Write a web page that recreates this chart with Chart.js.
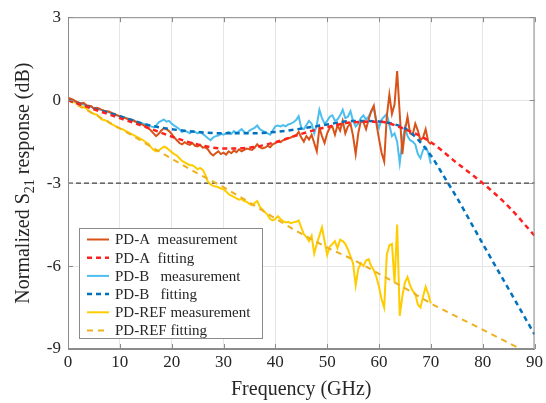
<!DOCTYPE html>
<html><head><meta charset="utf-8">
<script src="https://cdn.jsdelivr.net/npm/chart.js@4.4.0/dist/chart.umd.min.js"></script>
<style>html,body{margin:0;padding:0;background:#fff}</style>
</head><body>
<canvas id="c" width="546" height="403" style="width:546px;height:403px;display:block"></canvas>
<script>
// ---- data (GHz, dB) ----
const freqMeas = [0,0.5,1,1.5,2,2.5,3,3.5,4,4.5,5,5.5,6,6.5,7,7.5,8,8.5,9,9.5,10,10.5,11,11.5,12,12.5,13,13.5,14,14.5,15,15.5,16,16.5,17,17.5,18,18.5,19,19.5,20,20.5,21,21.5,22,22.5,23,23.5,24,24.5,25,25.5,26,26.5,27,27.5,28,28.5,29,29.5,30,30.5,31,31.5,32,32.5,33,33.5,34,34.5,35,35.5,36,36.5,37,37.5,38,38.5,39,39.5,40,40.5,41,41.5,42,42.5,43,43.5,44,44.5,45,45.5,46,46.5,47,47.5,48,48.5,49,49.5,50,50.5,51,51.5,52,52.5,53,53.5,54,54.5,55,55.5,56,56.5,57,57.5,58,58.5,59,59.5,60,60.5,61,61.5,62,62.5,63,63.5,64,64.5,65,65.5,66,66.5,67,67.5,68,68.5,69,69.5,70];

const pdA_meas = [0.08,0.05,0.02,-0.05,-0.08,-0.12,-0.1,-0.18,-0.2,-0.22,-0.3,-0.28,-0.3,-0.35,-0.38,-0.4,-0.42,-0.47,-0.5,-0.55,-0.58,-0.62,-0.65,-0.68,-0.7,-0.72,-0.78,-0.8,-0.85,-0.9,-0.95,-1.02,-1.1,-1.2,-1.3,-1.22,-1.1,-1.02,-1.05,-1.12,-1.22,-1.35,-1.45,-1.55,-1.6,-1.52,-1.58,-1.62,-1.55,-1.65,-1.67,-1.62,-1.72,-1.7,-1.78,-1.92,-2.0,-1.92,-1.85,-1.95,-1.9,-1.97,-1.85,-1.92,-1.82,-1.88,-1.78,-1.85,-1.8,-1.75,-1.78,-1.8,-1.72,-1.6,-1.7,-1.75,-1.72,-1.65,-1.7,-1.6,-1.55,-1.5,-1.52,-1.45,-1.42,-1.38,-1.35,-1.3,-1.28,-1.15,-1.35,-1.5,-1.3,-1.42,-1.25,-1.55,-1.85,-1.0,-1.3,-1.55,-1.2,-1.0,-0.95,-1.25,-0.9,-1.1,-0.75,-1.2,-0.95,-0.85,-1.3,-1.95,-1.2,-0.75,-0.8,-1.05,-0.7,-0.4,-0.2,-0.85,-1.4,-1.9,-2.22,-0.6,0.2,-0.5,-0.15,1.05,-0.5,-1.95,-1.1,-0.6,-1.2,-1.25,-0.85,-1.1,-1.45,-1.35,-1.05,-1.5,-1.6];

const pdB_meas = [0.05,0.0,-0.02,-0.05,-0.1,-0.12,-0.15,-0.2,-0.22,-0.25,-0.3,-0.3,-0.33,-0.36,-0.4,-0.42,-0.45,-0.48,-0.52,-0.55,-0.58,-0.6,-0.63,-0.66,-0.7,-0.72,-0.76,-0.78,-0.82,-0.85,-0.88,-0.9,-0.95,-0.98,-0.92,-0.8,-0.75,-0.7,-0.78,-0.75,-0.85,-0.92,-0.98,-1.05,-1.15,-1.1,-1.15,-1.2,-1.12,-1.15,-1.2,-1.15,-1.22,-1.3,-1.38,-1.45,-1.35,-1.3,-1.28,-1.22,-1.25,-1.2,-1.15,-1.22,-1.12,-1.18,-1.12,-1.05,-1.15,-1.2,-1.1,-1.05,-1.0,-0.92,-1.05,-1.1,-1.15,-1.2,-1.25,-1.1,-0.95,-0.92,-0.95,-0.9,-0.95,-0.88,-0.85,-0.8,-0.72,-0.58,-1.0,-1.05,-0.9,-0.75,-0.85,-1.2,-0.9,-0.35,-0.65,-0.85,-0.75,-0.6,-0.55,-0.75,-0.7,-0.55,-0.35,-0.65,-0.6,-0.4,-0.75,-0.95,-0.85,-0.65,-0.55,-0.7,-0.6,-0.4,-0.3,-0.75,-1.0,-0.7,-0.6,-0.5,-0.9,-1.3,-1.2,-1.5,-2.28,-1.5,-1.0,-1.3,-1.45,-1.5,-1.6,-1.95,-2.1,-1.8,-1.7,-1.9,-2.3];

const pdREF_meas = [0.1,0.02,-0.05,-0.1,-0.15,-0.2,-0.25,-0.3,-0.38,-0.45,-0.5,-0.52,-0.6,-0.7,-0.72,-0.75,-0.82,-0.88,-0.92,-0.98,-1.02,-1.05,-1.1,-1.15,-1.2,-1.25,-1.3,-1.35,-1.4,-1.45,-1.52,-1.58,-1.7,-1.8,-1.85,-1.82,-1.75,-1.68,-1.72,-1.8,-1.88,-1.95,-2.0,-2.1,-2.2,-2.25,-2.3,-2.35,-2.35,-2.42,-2.5,-2.45,-2.52,-2.7,-2.95,-3.05,-3.1,-3.12,-3.15,-3.2,-3.22,-3.3,-3.4,-3.45,-3.5,-3.55,-3.6,-3.58,-3.65,-3.68,-3.75,-3.8,-3.72,-3.65,-3.85,-3.95,-4.05,-4.15,-4.3,-4.35,-4.3,-4.2,-4.3,-4.38,-4.42,-4.4,-4.45,-4.42,-4.4,-4.35,-4.6,-4.85,-4.95,-5.1,-4.9,-5.55,-5.2,-4.9,-4.6,-5.1,-5.6,-5.3,-5.2,-5.1,-5.35,-5.05,-5.1,-5.2,-5.4,-5.65,-5.9,-6.7,-6.1,-5.9,-6.0,-5.8,-5.75,-6.0,-6.15,-6.4,-6.75,-7.2,-7.5,-5.6,-5.25,-5.2,-6.6,-4.5,-7.8,-7.1,-6.6,-6.4,-6.7,-6.9,-7.0,-7.4,-7.5,-7.1,-6.75,-7.0,-7.35];

const freqFitA = [0,5,10,15,20,25,30,35,40,45,50,55,60,65,70,75,80,85,90];
const pdA_fit  = [0,-0.33,-0.65,-0.97,-1.32,-1.6,-1.75,-1.72,-1.52,-1.22,-0.97,-0.8,-0.78,-1.05,-1.52,-2.27,-3.0,-3.85,-4.9];

const freqFitB = [0,5,10,15,20,25,30,35,40,45,50,55,60,62.5,65,67.5,70,72.5,75,80,85,90];
const pdB_fit  = [0,-0.3,-0.58,-0.88,-1.05,-1.15,-1.2,-1.2,-1.15,-1.03,-0.88,-0.75,-0.77,-0.85,-1.02,-1.42,-2.0,-2.75,-3.52,-5.19,-6.83,-8.47];

const freqFitREF = [0,5,10,15,20,25,30,35,40,45,50,55,60,65,70,75,80,85,90];
const pdREF_fit  = [0,-0.5,-1.02,-1.57,-2.12,-2.65,-3.15,-3.7,-4.28,-4.83,-5.33,-5.77,-6.28,-6.8,-7.35,-7.83,-8.3,-8.78,-9.26];

const refLineX = [0,90];
const refLineY = [-3,-3];

const xTicks = [0,10,20,30,40,50,60,70,80,90];
const yTicks = [-9,-6,-3,0,3];

const seriesLabels = ['PD-A  measurement','PD-A  fitting','PD-B   measurement','PD-B   fitting','PD-REF measurement','PD-REF fitting'];

// ---- build ----
const pts = (xs, ys) => xs.map((x,i)=>({x, y: ys[i]}));
const SERIF = "'Liberation Serif','Times New Roman',serif";

const datasets = [
  {label: seriesLabels[0], data: pts(freqMeas,pdA_meas), borderColor:'#D95319', borderWidth:2, order:4},
  {label: seriesLabels[1], data: pts(freqFitA,pdA_fit), borderColor:'#FF2020', borderWidth:2.5, borderDash:[5,4], cubicInterpolationMode:'monotone', order:1},
  {label: seriesLabels[2], data: pts(freqMeas,pdB_meas), borderColor:'#4DBEEE', borderWidth:2, order:5},
  {label: seriesLabels[3], data: pts(freqFitB,pdB_fit), borderColor:'#0072BD', borderWidth:2.5, borderDash:[5,4], cubicInterpolationMode:'monotone', order:2},
  {label: seriesLabels[4], data: pts(freqMeas,pdREF_meas), borderColor:'#FFCC00', borderWidth:2, order:6},
  {label: seriesLabels[5], data: pts(freqFitREF,pdREF_fit), borderColor:'#EDB120', borderWidth:2, borderDash:[6,5], cubicInterpolationMode:'monotone', order:3},
  {label: '-3 dB', data: pts(refLineX,refLineY), borderColor:'#404040', borderWidth:1.2, borderDash:[5,3], order:7}
];
datasets.forEach(d=>{d.pointRadius=0; d.fill=false; d.tension = d.tension||0;});

const decor = {
  id:'decor',
  afterDraw(chart){
    const ctx = chart.ctx, a = chart.chartArea;
    const xs = chart.scales.x, ys = chart.scales.y;
    ctx.save();
    // box
    ctx.strokeStyle = '#8c8c8c'; ctx.lineWidth = 1;
    ctx.strokeRect(a.left+0.5, a.top+0.5, a.right-a.left-1, a.bottom-a.top-1);
    // inward tick marks
    const tl = 5;
    ctx.beginPath();
    xTicks.forEach(v=>{const p=Math.round(xs.getPixelForValue(v))+0.5;
      ctx.moveTo(p,a.bottom); ctx.lineTo(p,a.bottom-tl);
      ctx.moveTo(p,a.top); ctx.lineTo(p,a.top+tl);});
    yTicks.forEach(v=>{const p=Math.round(ys.getPixelForValue(v))+0.5;
      ctx.moveTo(a.left,p); ctx.lineTo(a.left+tl,p);
      ctx.moveTo(a.right,p); ctx.lineTo(a.right-tl,p);});
    ctx.stroke();

    // legend
    const lx0 = 79.5, ly0 = 228.5, lw = 183, lh = 110;
    ctx.fillStyle = '#fff'; ctx.fillRect(lx0, ly0, lw, lh);
    ctx.strokeStyle = '#8a8a8a'; ctx.lineWidth = 1; ctx.strokeRect(lx0, ly0, lw, lh);
    ctx.font = '15px ' + SERIF; ctx.textBaseline = 'middle'; ctx.textAlign='left';
    for (let i=0;i<6;i++){
      const ds = chart.data.datasets[i];
      const y = 239.5 + i*18.2;
      ctx.strokeStyle = ds.borderColor; ctx.lineWidth = ds.borderWidth;
      ctx.setLineDash(ds.borderDash || []);
      ctx.beginPath(); ctx.moveTo(87, y); ctx.lineTo(109, y); ctx.stroke();
      ctx.setLineDash([]);
      ctx.fillStyle = '#262626';
      ctx.fillText(ds.label, 115, y+1);
    }

    // x title
    ctx.fillStyle = '#262626';
    ctx.font = '20px ' + SERIF; ctx.textAlign='center'; ctx.textBaseline='alphabetic';
    ctx.fillText('Frequency (GHz)', (a.left+a.right)/2, 395);

    // y title with subscript
    ctx.save();
    ctx.translate(29, (a.top+a.bottom)/2);
    ctx.rotate(-Math.PI/2);
    ctx.textAlign='left';
    const big = '20px ' + SERIF, small = '14px ' + SERIF;
    const t1 = 'Normalized S', t2 = '21', t3 = ' response (dB)';
    ctx.font = big; const w1 = ctx.measureText(t1).width, w3 = ctx.measureText(t3).width;
    ctx.font = small; const w2 = ctx.measureText(t2).width;
    let x = -(w1+w2+w3)/2;
    ctx.font = big; ctx.fillText(t1, x, 0); x += w1;
    ctx.font = small; ctx.fillText(t2, x, 5); x += w2;
    ctx.font = big; ctx.fillText(t3, x, 0);
    ctx.restore();
    ctx.restore();
  }
};

new Chart(document.getElementById('c'), {
  type:'line',
  data:{datasets},
  options:{
    responsive:false, animation:false, devicePixelRatio:1,
    layout:{padding:{top:15,right:9,left:0,bottom:0}},
    plugins:{legend:{display:false}, tooltip:{enabled:false}, title:{display:false}},
    scales:{
      x:{type:'linear', min:0, max:90,
         ticks:{stepSize:10, color:'#262626', font:{family:SERIF, size:17}, padding:3, maxRotation:0, autoSkip:false},
         grid:{color:'#e6e6e6', drawTicks:false}, border:{color:'#8c8c8c'},
         afterFit(s){ s.height = 54; }},
      y:{type:'linear', min:-9, max:3,
         ticks:{stepSize:3, color:'#262626', font:{family:SERIF, size:17}, padding:7, autoSkip:false},
         grid:{color:'#e6e6e6', drawTicks:false}, border:{color:'#8c8c8c'},
         afterFit(s){ s.width = 68; }}
    }
  },
  plugins:[decor]
});
</script>
</body></html>
